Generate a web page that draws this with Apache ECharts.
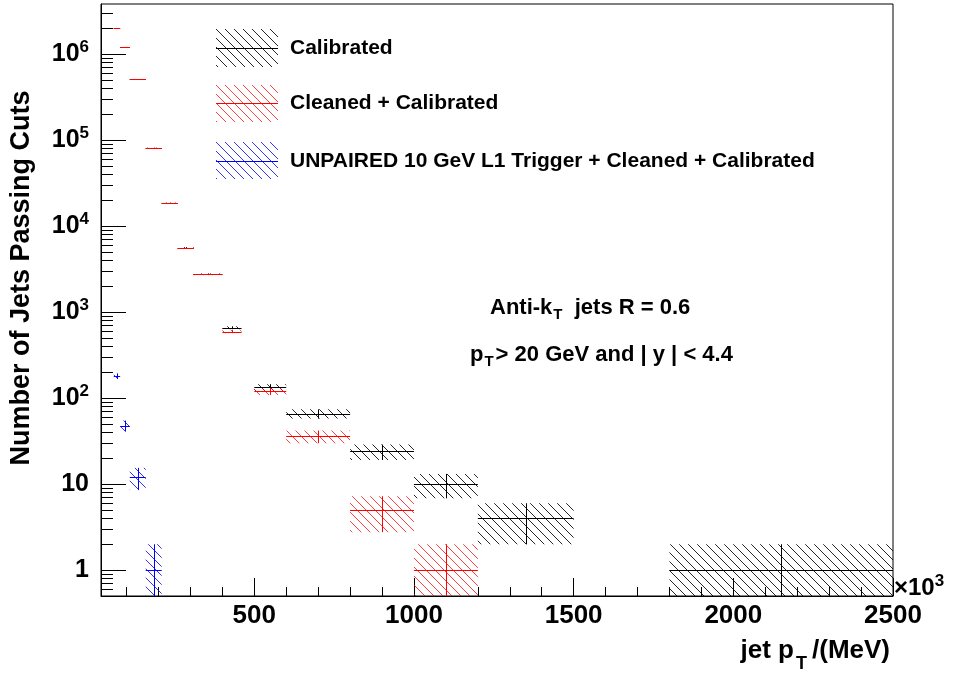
<!DOCTYPE html>
<html><head><meta charset="utf-8">
<script src="https://cdn.jsdelivr.net/npm/echarts@6/dist/echarts.min.js"></script>
<style>html,body{margin:0;padding:0;background:#fff}#c{width:955px;height:673px}</style>
</head><body><div id="c"></div>
<script>
// ---- data (x in units of 10^3 MeV) ----
const binLow  = [60, 80, 110, 160, 210, 260, 310, 400, 500, 600, 800, 1000, 1200, 1500, 1800];
const binHigh = [80, 110, 160, 210, 260, 310, 400, 460, 600, 800, 1000, 1200, 1500, 1800, 2500];
const calibrated        = [2010000, 1220000, 514000, 82000, 18700, 5650, 2770, 660, 134, 66, 24, 10, 4, 0, 1];
const cleanedCalibrated = [2000000, 1210000, 512000, 81500, 18500, 5550, 2750, 595, 120, 36, 5, 1, 0, 0, 0];
const unpairedL1        = [181, 48, 12, 1, 0, 0, 0, 0, 0, 0, 0, 0, 0, 0, 0];
const seriesNames = ['Calibrated', 'Cleaned + Calibrated', 'UNPAIRED 10 GeV L1 Trigger + Cleaned + Calibrated'];
const xTickValues = [500, 1000, 1500, 2000, 2500];
const xMinorTicks = [100, 200, 300, 400, 600, 700, 800, 900, 1100, 1200, 1300, 1400, 1600, 1700, 1800, 1900, 2100, 2200, 2300, 2400];
const yTickValues = [1, 10, 100, 1000, 10000, 100000, 1000000];
const yMinorTicks = [0.6, 0.7, 0.8, 0.9, 2, 3, 4, 5, 6, 7, 8, 9, 20, 30, 40, 50, 60, 70, 80, 90,
  200, 300, 400, 500, 600, 700, 800, 900, 2000, 3000, 4000, 5000, 6000, 7000, 8000, 9000,
  20000, 30000, 40000, 50000, 60000, 70000, 80000, 90000, 200000, 300000, 400000, 500000, 600000, 700000, 800000, 900000,
  2000000, 3000000];

const FONT = '"Liberation Sans", Arial, Helvetica, sans-serif';
const colors = ['#000000', '#ff0000', '#0000ff'];
const hatchColors = ['rgba(0,0,0,0.85)', 'rgba(255,0,0,0.75)', 'rgba(0,0,255,0.8)'];

function makeHatch(color) {
  const s = 9;
  const c = document.createElement('canvas');
  c.width = s; c.height = s;
  const g = c.getContext('2d');
  g.strokeStyle = color; g.lineWidth = 1;
  for (let k = -1; k <= 1; k++) {
    g.beginPath();
    g.moveTo(k * s - 2, -2);
    g.lineTo(k * s + s + 2, s + 2);
    g.stroke();
  }
  return { image: c, repeat: 'repeat' };
}
const hatches = hatchColors.map(makeHatch);

function buildRows(vals) {
  return vals.map((v, i) => [binLow[i], binHigh[i], v]);
}
const crisp = v => Math.round(v) + 0.5;

function makeRender(idx) {
  return function (params, api) {
    const x0 = api.value(0), x1 = api.value(1), v = api.value(2);
    if (!(v > 0)) return null;
    const e = Math.sqrt(v);
    const lo = Math.max(v - e, 1e-4);
    const hi = v + e;
    const pLo = api.coord([x0, lo]);
    const pHi = api.coord([x1, hi]);
    const pv0 = api.coord([x0, v]);
    const pv1 = api.coord([x1, v]);
    const xc = api.coord([(x0 + x1) / 2, v])[0];
    return {
      type: 'group',
      children: [
        { type: 'rect', shape: { x: pLo[0], y: pHi[1], width: pHi[0] - pLo[0], height: pLo[1] - pHi[1] },
          style: { fill: hatches[idx], stroke: null } },
        { type: 'line', shape: { x1: pv0[0], y1: crisp(pv0[1]), x2: pv1[0], y2: crisp(pv0[1]) },
          style: { stroke: colors[idx], lineWidth: 1 } },
        { type: 'line', shape: { x1: crisp(xc), y1: pLo[1], x2: crisp(xc), y2: pHi[1] },
          style: { stroke: colors[idx], lineWidth: 1 } }
      ]
    };
  };
}

const allData = [calibrated, cleanedCalibrated, unpairedL1];
const series = allData.map((vals, i) => ({
  type: 'custom',
  name: seriesNames[i],
  xAxisIndex: 0, yAxisIndex: 0,
  clip: true,
  silent: true,
  encode: { x: [0, 1], y: 2 },
  data: buildRows(vals),
  renderItem: makeRender(i),
  z: 2 + i
}));

const legendGraphics = [];
const legendY = [29, 85, 142];
const legendH = [38, 37, 37];
const legendLine = [48, 103, 161];
seriesNames.forEach((n, i) => {
  legendGraphics.push({ type: 'rect', left: 216, top: legendY[i], shape: { width: 62, height: legendH[i] }, style: { fill: hatches[i] }, silent: true });
  legendGraphics.push({ type: 'line', shape: { x1: 216, y1: legendLine[i] + 0.5, x2: 278, y2: legendLine[i] + 0.5 }, style: { stroke: colors[i], lineWidth: 1 }, silent: true });
  legendGraphics.push({ type: 'text', x: 290, y: legendLine[i], style: { text: n, font: 'bold 21px ' + FONT, fill: '#000', verticalAlign: 'middle' }, silent: true });
});

const option = {
  animation: false,
  backgroundColor: '#fff',
  grid: { left: 101, top: 4, width: 792, height: 592, show: true, borderColor: '#000', borderWidth: 1, backgroundColor: 'transparent',
          containLabel: false, outerBoundsMode: 'none' },
  xAxis: [
    { type: 'value', min: 20, max: 2500, position: 'bottom',
      axisLine: { show: true, onZero: false, lineStyle: { color: '#000', width: 1 } },
      axisTick: { show: true, inside: true, length: 18, customValues: xTickValues, lineStyle: { color: '#000' } },
      axisLabel: { show: true, customValues: xTickValues, margin: 7, color: '#000', fontSize: 26, fontWeight: 'bold', fontFamily: FONT,
                   formatter: v => String(v) },
      splitLine: { show: false },
      name: '{a|jet p}{s|T}{a|/(MeV)}', nameLocation: 'end', nameGap: -3,
      nameTextStyle: { align: 'right', verticalAlign: 'top', padding: [33, 0, 0, 0],
        rich: { a: { fontSize: 26, fontWeight: 'bold', fontFamily: FONT, color: '#000' },
                s: { fontSize: 18, fontWeight: 'bold', fontFamily: FONT, color: '#000', padding: [26, 5, 0, 2] } } }
    },
    { type: 'value', min: 20, max: 2500, position: 'bottom',
      axisLine: { show: false, onZero: false },
      axisTick: { show: true, inside: true, length: 9, customValues: xMinorTicks, lineStyle: { color: '#000' } },
      axisLabel: { show: false }, splitLine: { show: false } }
  ],
  yAxis: [
    { type: 'log', logBase: 10, min: 0.5, max: 3850000, position: 'left',
      axisLine: { show: true, onZero: false, lineStyle: { color: '#000', width: 1 } },
      axisTick: { show: true, inside: true, length: 25, customValues: yTickValues, lineStyle: { color: '#000' } },
      axisLabel: { show: true, customValues: yTickValues, margin: 12, color: '#000',
        formatter: function (v) {
          const ex = Math.round(Math.log10(v));
          if (ex === 0) return '{b|1}';
          if (ex === 1) return '{b|10}';
          return '{b|10}{s|' + ex + '}';
        },
        rich: { b: { fontSize: 25, fontWeight: 'bold', fontFamily: FONT, color: '#000' },
                s: { fontSize: 17, fontWeight: 'bold', fontFamily: FONT, color: '#000', padding: [0, 0, 14, 0] } } },
      splitLine: { show: false }, minorTick: { show: false },
      name: 'Number of Jets Passing Cuts', nameLocation: 'middle', nameGap: 66,
      nameTextStyle: { fontSize: 27, fontWeight: 'bold', fontFamily: FONT, color: '#000', padding: [0, 0, 0, 44] }
    },
    { type: 'log', logBase: 10, min: 0.5, max: 3850000, position: 'left',
      axisLine: { show: false, onZero: false },
      axisTick: { show: true, inside: true, length: 12, customValues: yMinorTicks, lineStyle: { color: '#000' } },
      axisLabel: { show: false }, splitLine: { show: false } }
  ],
  graphic: legendGraphics.concat([
    { type: 'text', x: 490, y: 308, silent: true,
      style: { text: '{a|Anti-k}{s|T}{a|  jets R = 0.6}', verticalAlign: 'middle',
        rich: { a: { font: 'bold 22px ' + FONT, fill: '#000' }, s: { font: 'bold 15px ' + FONT, fill: '#000', padding: [14, 0, 0, 1] } } } },
    { type: 'text', x: 470, y: 355, silent: true,
      style: { text: '{a|p}{s|T}{a|> 20 GeV and | y | < 4.4}', verticalAlign: 'middle',
        rich: { a: { font: 'bold 22px ' + FONT, fill: '#000' }, s: { font: 'bold 15px ' + FONT, fill: '#000', padding: [14, 2, 0, 1] } } } },
    { type: 'text', x: 894, y: 588, silent: true,
      style: { text: '{a|\u00d710}{s|3}', verticalAlign: 'middle',
        rich: { a: { font: 'bold 24px ' + FONT, fill: '#000' }, s: { font: 'bold 17px ' + FONT, fill: '#000', padding: [0, 0, 14, 0] } } } }
  ]),
  series: series
};

const chart = echarts.init(document.getElementById('c'), null, { renderer: 'canvas' });
chart.setOption(option);
</script>
</body></html>
